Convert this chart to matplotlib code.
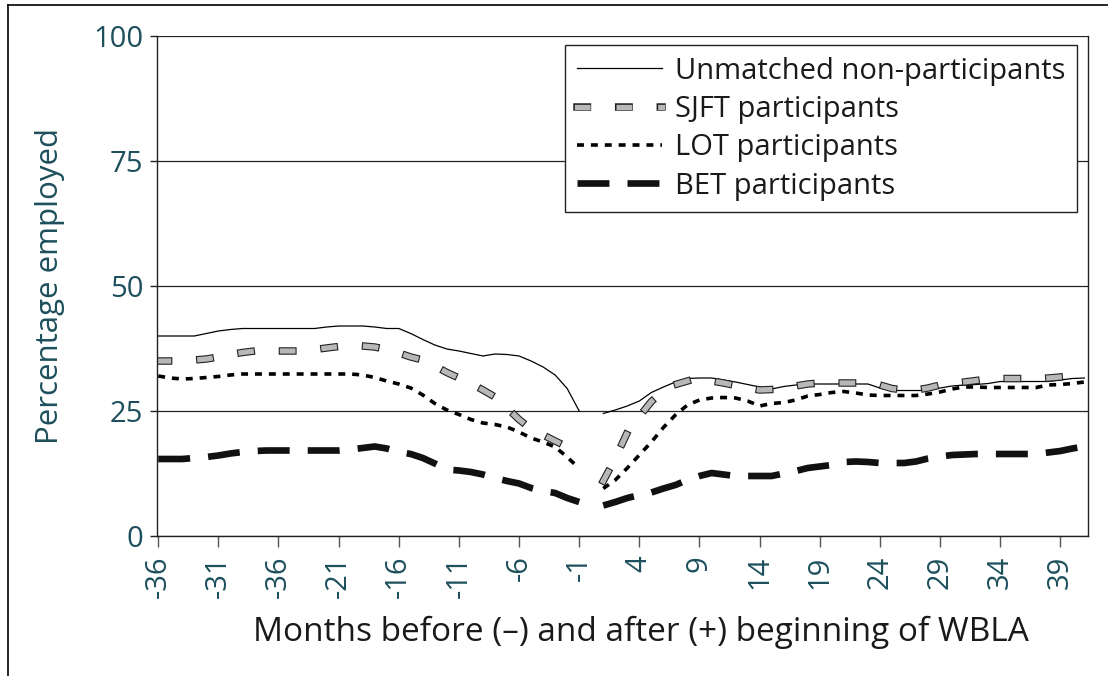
import numpy as np
import matplotlib
matplotlib.use("Agg")
import matplotlib.pyplot as plt
import matplotlib.patheffects as pe
from matplotlib.lines import Line2D

plt.rcParams['font.family'] = ['Open Sans', 'DejaVu Sans']
plt.rcParams['lines.scale_dashes'] = False

TEAL = '#1d4f5c'

# months before / after start (no month 0)
pre_months = list(range(-36, 0))
post_months = list(range(1, 42))

unmatched_pre = [40, 40, 40, 40, 40.5, 41, 41.3, 41.5, 41.5, 41.5, 41.5, 41.5, 41.5, 41.5,
                 41.8, 42, 42, 42, 41.8, 41.5, 41.5, 40.5, 39.3, 38.2, 37.4, 37, 36.5, 36,
                 36.4, 36.3, 36, 35, 33.8, 32.2, 29.5, 25]
unmatched_post = [24.5, 25.2, 26, 27, 28.7, 29.8, 30.8, 31.5, 31.6, 31.6, 31.2, 30.8, 30.3,
                  29.8, 29.4, 29.9, 30.2, 30.4, 30.4, 30.4, 30.4, 30.4, 30.4, 29.6, 29.1, 29.1,
                  29.1, 29.1, 29.6, 30, 30.2, 30.3, 30.5, 30.9, 30.9, 30.9, 30.9, 30.9, 31.2,
                  31.5, 31.6]

sjft_pre = [35, 35, 35.1, 35.2, 35.4, 35.8, 36.3, 36.7, 37, 37, 37, 37, 37, 37.3, 37.6, 37.9,
            38, 38, 37.8, 37.3, 36.6, 35.8, 35.2, 34, 32.7, 31.6, 30.5, 29.2, 27.8, 25.6, 23.3,
            21.4, 20.2, 19, 17.8, 16.5]
sjft_post = [11, 15.5, 20.7, 23.9, 26.9, 29, 30.3, 31, 31.2, 31, 30.6, 30.1, 29.6, 29.2, 29.3,
             29.6, 30, 30.4, 30.6, 30.6, 30.6, 30.6, 30.6, 30.2, 29.5, 29.2, 29.2, 29.6, 30.2,
             30.5, 30.8, 31.1, 31.3, 31.5, 31.5, 31.5, 31.5, 31.6, 31.8, 32, 32.3]

lot_pre = [32, 31.6, 31.4, 31.5, 31.7, 31.9, 32.2, 32.4, 32.4, 32.4, 32.4, 32.4, 32.4, 32.4,
           32.4, 32.4, 32.4, 32.2, 31.7, 31, 30.4, 29.6, 28.2, 26.5, 25.2, 24.3, 23.3, 22.6,
           22.3, 21.8, 20.8, 19.6, 18.8, 17.8, 15.8, 13.5]
lot_post = [9.5, 11.2, 13.6, 16.2, 18.8, 21.7, 24.2, 26.2, 27.2, 27.6, 27.7, 27.6, 27, 26, 26.5,
            26.7, 27.2, 28, 28.3, 28.7, 28.9, 28.6, 28.2, 28.1, 28.1, 28.1, 28.1, 28.4, 28.8,
            29.4, 29.8, 29.8, 29.7, 29.7, 29.7, 29.7, 29.7, 30.2, 30.3, 30.5, 30.8]

bet_pre = [15.4, 15.4, 15.4, 15.6, 15.8, 16.1, 16.5, 16.8, 17, 17.1, 17.1, 17.1, 17.1, 17.1,
           17.1, 17.1, 17.3, 17.6, 17.9, 17.5, 16.8, 16.4, 15.6, 14.5, 13.3, 13.1, 12.8, 12.3,
           11.6, 11, 10.5, 9.6, 9, 8.6, 7.6, 6.8]
bet_post = [6.1, 6.8, 7.6, 8.2, 8.7, 9.5, 10.2, 11.2, 12, 12.6, 12.3, 12, 12, 12, 12, 12.5, 13,
            13.6, 13.9, 14.2, 14.8, 14.9, 14.8, 14.6, 14.6, 14.6, 14.9, 15.5, 15.9, 16.2, 16.3,
            16.4, 16.4, 16.4, 16.4, 16.4, 16.4, 16.7, 17, 17.5, 17.9]

tick_pos = list(range(-36, 40, 5))
tick_labels = ["-36", "-31", "-36", "-21", "-16", "-11", "-6", "-1",
               "4", "9", "14", "19", "24", "29", "34", "39"]

labels = ["Unmatched non-participants", "SJFT participants", "LOT participants", "BET participants"]


def join(pre, post):
    # NaN at month 0 breaks the line
    return pre_months + [0] + post_months, pre + [np.nan] + post


fig = plt.figure(figsize=(11.08, 6.76), dpi=100)
ax = fig.add_axes([157 / 1108, 1 - 536 / 676, (1088 - 157) / 1108, 500 / 676])

# outer frame of the figure (left and top edges)
fig.add_artist(Line2D([8 / 1108, 8 / 1108], [0, 1 - 5 / 676], transform=fig.transFigure,
                      color='black', lw=1.2))
fig.add_artist(Line2D([8 / 1108, 1], [1 - 5 / 676, 1 - 5 / 676], transform=fig.transFigure,
                      color='black', lw=1.2))

x, y = join(unmatched_pre, unmatched_post)
ax.plot(x, y, color='black', lw=0.9, label=labels[0])

x, y = join(sjft_pre, sjft_post)
ax.plot(x, y, color='#b8b8b8', lw=3.8, dashes=(7.5, 22.5), dash_capstyle='projecting',
        label=labels[1],
        path_effects=[pe.Stroke(linewidth=5.4, foreground='#222222', capstyle='projecting'),
                      pe.Normal()])

x, y = join(lot_pre, lot_post)
ax.plot(x, y, color='black', lw=2.6, dashes=(5, 5), dash_capstyle='butt', label=labels[2])

x, y = join(bet_pre, bet_post)
ax.plot(x, y, color='#111111', lw=4.8, dashes=(23, 13), dash_capstyle='butt', label=labels[3])

ax.set_xlim(-36.1, 41.3)
ax.set_ylim(0, 100)
ax.set_yticks([0, 25, 50, 75, 100])
ax.set_xticks(tick_pos)
ax.set_xticklabels(tick_labels, rotation=90)
ax.yaxis.grid(True, color='#222222', lw=0.9)
ax.set_axisbelow(True)

for s in ['left', 'right', 'bottom']:
    ax.spines[s].set_linewidth(1.0)
    ax.spines[s].set_color('#222222')
ax.spines['top'].set_visible(False)

ax.tick_params(axis='y', direction='out', length=5, width=1, colors='#222222',
               labelcolor=TEAL, labelsize=21, pad=5)
ax.tick_params(axis='x', direction='out', length=8, width=1, colors='#555555',
               labelcolor=TEAL, labelsize=21, pad=6)

ax.set_ylabel("Percentage employed", color=TEAL, fontsize=22.5, labelpad=20)
ax.set_xlabel("Months before (–) and after (+) beginning of WBLA", color='#1a1a1a',
              fontsize=24, labelpad=13)
ax.xaxis.label.set_x(0.52)

leg = ax.legend(loc='upper right', bbox_to_anchor=(0.988, 0.982), fontsize=21,
                frameon=True, fancybox=False, edgecolor='#222222', framealpha=1,
                handlelength=2.9, handletextpad=0.45, labelspacing=0.32, borderpad=0.4,
                borderaxespad=0)
leg.get_frame().set_linewidth(1.0)
for t in leg.get_texts():
    t.set_color('#1a1a1a')

fig.savefig("out.png", dpi=100)
